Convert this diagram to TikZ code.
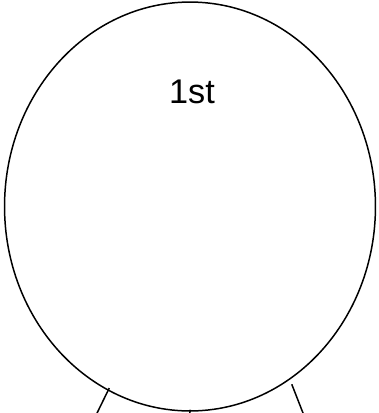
\documentclass[tikz,border=0pt]{standalone}
\usepackage{fontspec}
\setmainfont{Liberation Sans}
\usetikzlibrary{shapes.geometric, positioning, calc}

\begin{document}
\begin{tikzpicture}[
    x=0.02cm, y=-0.02cm,
    bigoval/.style={draw, ellipse, line width=0.85pt, inner sep=0pt, minimum width=7.42cm, minimum height=8.18cm},
    lbl/.style={font=\fontsize{19.5}{23}\selectfont, anchor=base, inner sep=0pt},
    leg/.style={line width=0.85pt}
]
\clip (0,0) rectangle (379,413);
\node[bigoval] (root) at (190,206.5) {};
\node[lbl] (title) at (192,103) {1st};

\coordinate (legA) at (91.7,424);
\coordinate (legB) at (188.2,424);
\coordinate (legC) at (307.3,424);

\draw[leg, shorten <=-0.06cm] (root.-114.8) -- (legA);
\draw[leg, shorten <=-0.04cm] (root.-90.5) -- (legB);
\draw[leg, shorten <=0.1cm] (root.-60.1) -- (legC);
\end{tikzpicture}
\end{document}
